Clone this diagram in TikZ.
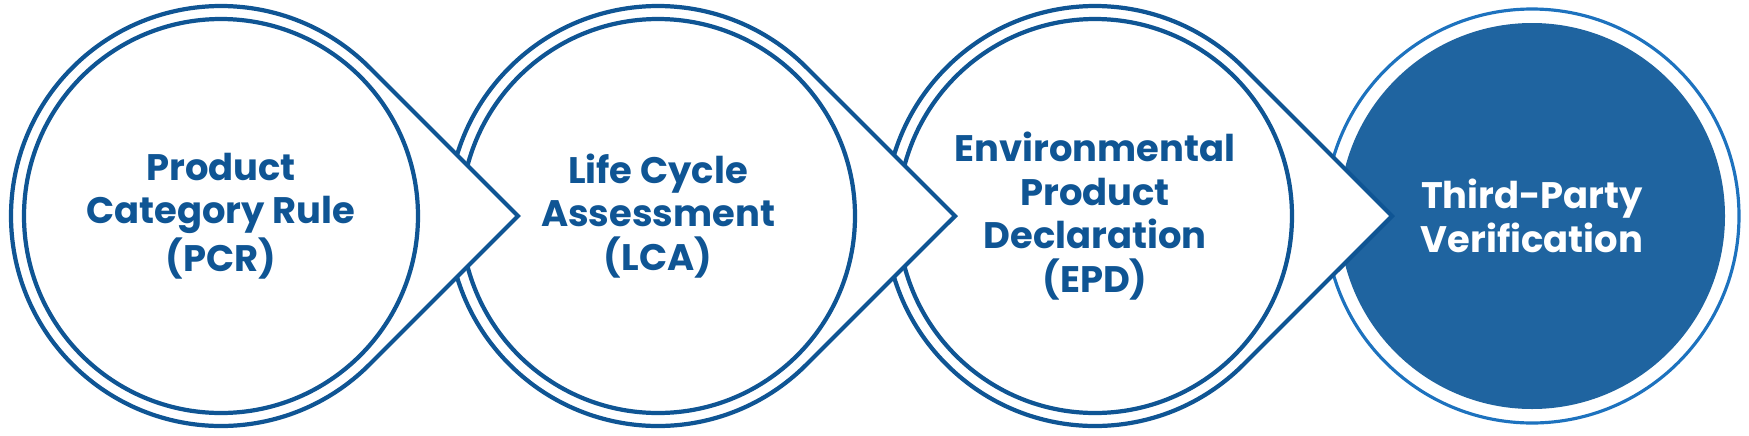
\documentclass[tikz,border=0pt]{standalone}
\usepackage{fontspec}
\setsansfont{Poppins}
\usepackage{tikz}
\usetikzlibrary{calc}
\definecolor{epdBlue}{HTML}{0F5594}
\definecolor{epdFill}{HTML}{1F64A0}
\definecolor{epdRing}{HTML}{1D72BE}

\begin{document}
\begin{tikzpicture}[
  stage/.style={circle, draw=epdBlue, line width=1.2pt, fill=white, minimum size=3.94cm,
                inner sep=0pt, align=center, text=epdBlue,
                font=\sffamily\bfseries\fontsize{10.5}{12.4}\selectfont},
  drop/.style={draw=epdBlue, line width=1.2pt, fill=white},
  final/.style={stage, draw=none, fill=epdFill, text=white, minimum size=3.86cm},
  ring/.style={draw=epdRing, line width=0.9pt}
]
\useasboundingbox (0,0) rectangle (17.49,4.35);

\coordinate (c1) at (2.21,2.19);
\coordinate (c2) at (6.58,2.19);
\coordinate (c3) at (10.95,2.19);
\coordinate (c4) at (15.32,2.19);

% last step first, so the pointers lie on top
\draw[ring] (c4) circle[radius=2.07cm];
\node[final] (tpv) at (c4) {Third-Party\\Verification};

\draw[drop] ($(c3)+(45:2.1)$) arc[start angle=45, end angle=315, radius=2.1cm] -- ($(c3)+(2.97,0)$) -- cycle;
\node[stage] (epd) at (c3) {Environmental\\Product\\Declaration\\(EPD)};

\draw[drop] ($(c2)+(45:2.1)$) arc[start angle=45, end angle=315, radius=2.1cm] -- ($(c2)+(2.97,0)$) -- cycle;
\node[stage] (lca) at (c2) {Life Cycle\\Assessment\\(LCA)};

\draw[drop] ($(c1)+(45:2.1)$) arc[start angle=45, end angle=315, radius=2.1cm] -- ($(c1)+(2.97,0)$) -- cycle;
\node[stage] (pcr) at (c1) {Product\\Category Rule\\(PCR)};
\end{tikzpicture}
\end{document}
